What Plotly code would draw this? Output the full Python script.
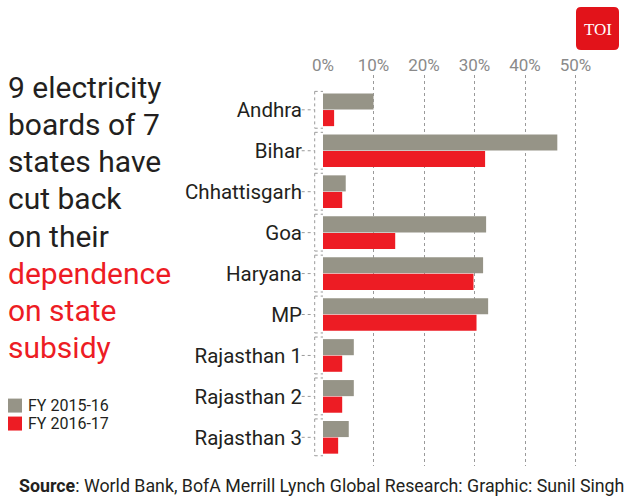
import plotly.graph_objects as go

# ---- data ----
states = ["Andhra", "Bihar", "Chhattisgarh", "Goa", "Haryana", "MP",
          "Rajasthan 1", "Rajasthan 2", "Rajasthan 3"]
fy_2015_16 = [0.100, 0.464, 0.045, 0.323, 0.317, 0.327, 0.061, 0.061, 0.051]
fy_2016_17 = [0.022, 0.321, 0.038, 0.143, 0.298, 0.304, 0.038, 0.038, 0.030]
series_names = ["FY 2015-16", "FY 2016-17"]
x_ticks = [0, 0.1, 0.2, 0.3, 0.4, 0.5]
x_ticklabels = ["0%", "10%", "20%", "30%", "40%", "50%"]
title_lines_dark = ["9 electricity", "boards of 7", "states have", "cut back", "on their"]
title_lines_red = ["dependence", "on state", "subsidy"]
source_text = "<b>Source</b>: World Bank, BofA Merrill Lynch Global Research: Graphic: Sunil Singh"

GRAY = "#969487"
RED = "#ed1c24"
DARK = "#231f20"
FONT = "Roboto, Lato, sans-serif"

W, H = 635, 504
L, R, T = 323, 9, 75
PH = 391.5
B = H - T - PH


def px_x(p):
    return (p - L) / (W - L - R)


def px_y(p):
    return (T + PH - p) / PH


series_colors = [GRAY, RED]
fig = go.Figure()
for name, vals, col in zip(series_names, [fy_2015_16, fy_2016_17], series_colors):
    fig.add_trace(go.Bar(y=states, x=vals, orientation="h", name=name,
                         marker=dict(color=col, line=dict(width=0)), showlegend=False))

shapes = []
lc = dict(color="#9a9a9a", width=1, dash="dot")
for i in range(len(states)):
    shapes.append(dict(type="line", xref="paper", yref="y", x0=px_x(314.7), x1=px_x(314.7),
                       y0=i - 0.45, y1=i + 0.45, line=lc))
    shapes.append(dict(type="line", xref="paper", yref="y", x0=px_x(314.7), x1=0,
                       y0=i - 0.45, y1=i - 0.45, line=lc))
    shapes.append(dict(type="line", xref="paper", yref="y", x0=px_x(314.7), x1=0,
                       y0=i + 0.45, y1=i + 0.45, line=lc))
    shapes.append(dict(type="line", xref="paper", yref="y", x0=px_x(301.7), x1=px_x(314.7),
                       y0=i, y1=i, line=lc))

# TOI logo rounded rect
x0, x1, y0, y1, r = 576, 619, 7, 50, 5
path = (f"M {px_x(x0 + r)},{px_y(y0)} L {px_x(x1 - r)},{px_y(y0)} "
        f"Q {px_x(x1)},{px_y(y0)} {px_x(x1)},{px_y(y0 + r)} "
        f"L {px_x(x1)},{px_y(y1 - r)} Q {px_x(x1)},{px_y(y1)} {px_x(x1 - r)},{px_y(y1)} "
        f"L {px_x(x0 + r)},{px_y(y1)} Q {px_x(x0)},{px_y(y1)} {px_x(x0)},{px_y(y1 - r)} "
        f"L {px_x(x0)},{px_y(y0 + r)} Q {px_x(x0)},{px_y(y0)} {px_x(x0 + r)},{px_y(y0)} Z")
shapes.append(dict(type="path", xref="paper", yref="paper", path=path,
                   fillcolor="#e2131a", line=dict(width=0)))

annotations = []
# manual legend
for k, (name, col) in enumerate(zip(series_names, series_colors)):
    top = 399 + 18 * k
    shapes.append(dict(type="rect", xref="paper", yref="paper", x0=px_x(8), x1=px_x(22),
                       y0=px_y(top), y1=px_y(top + 14), fillcolor=col, line=dict(width=0)))
    annotations.append(dict(text=name, xref="paper", yref="paper", x=px_x(26), y=px_y(top + 7),
                            xanchor="left", yanchor="middle", showarrow=False,
                            font=dict(family=FONT, size=16, color=DARK)))

baselines = [98, 135, 172, 209, 246.5, 284, 321, 358]
lines = [(t, DARK) for t in title_lines_dark] + [(t, RED) for t in title_lines_red]
for (txt, col), bl in zip(lines, baselines):
    annotations.append(dict(text=txt, xref="paper", yref="paper", x=px_x(6), y=px_y(bl - 10),
                            xanchor="left", yanchor="middle", showarrow=False,
                            font=dict(family=FONT, size=30, color=col)))
annotations.append(dict(text="TOI", xref="paper", yref="paper", x=px_x(597.5), y=px_y(29),
                        xanchor="center", yanchor="middle", showarrow=False,
                        font=dict(family="Liberation Serif, DejaVu Serif, serif", size=17,
                                  color="white")))
annotations.append(dict(text=source_text, xref="paper", yref="paper", x=px_x(17), y=px_y(486),
                        xanchor="left", yanchor="middle", showarrow=False,
                        font=dict(family=FONT, size=17.8, color=DARK)))

fig.update_layout(
    width=W, height=H,
    margin=dict(l=L, r=R, t=T, b=B, pad=0, autoexpand=False),
    paper_bgcolor="white", plot_bgcolor="white",
    barmode="group", bargap=0.19, bargroupgap=0.03,
    showlegend=False,
    xaxis=dict(range=[0, 0.6], side="top", tickvals=x_ticks, ticktext=x_ticklabels,
               showgrid=True, gridcolor="#9a9a9a", griddash="dot", gridwidth=1,
               zeroline=False, showline=False, ticks="", automargin=False,
               tickfont=dict(family=FONT, size=17, color="#8a8a8a"), fixedrange=True),
    yaxis=dict(range=[8.7, -0.85], showgrid=False, zeroline=False, showline=False,
               ticks="", ticklabelstandoff=20, automargin=False,
               tickfont=dict(family=FONT, size=20.5, color=DARK), fixedrange=True),
    shapes=shapes, annotations=annotations,
)

fig.write_html("out.html", config={"displayModeBar": False},
               post_script="document.body.style.margin='0';"
                           "document.documentElement.style.overflow='hidden';")
